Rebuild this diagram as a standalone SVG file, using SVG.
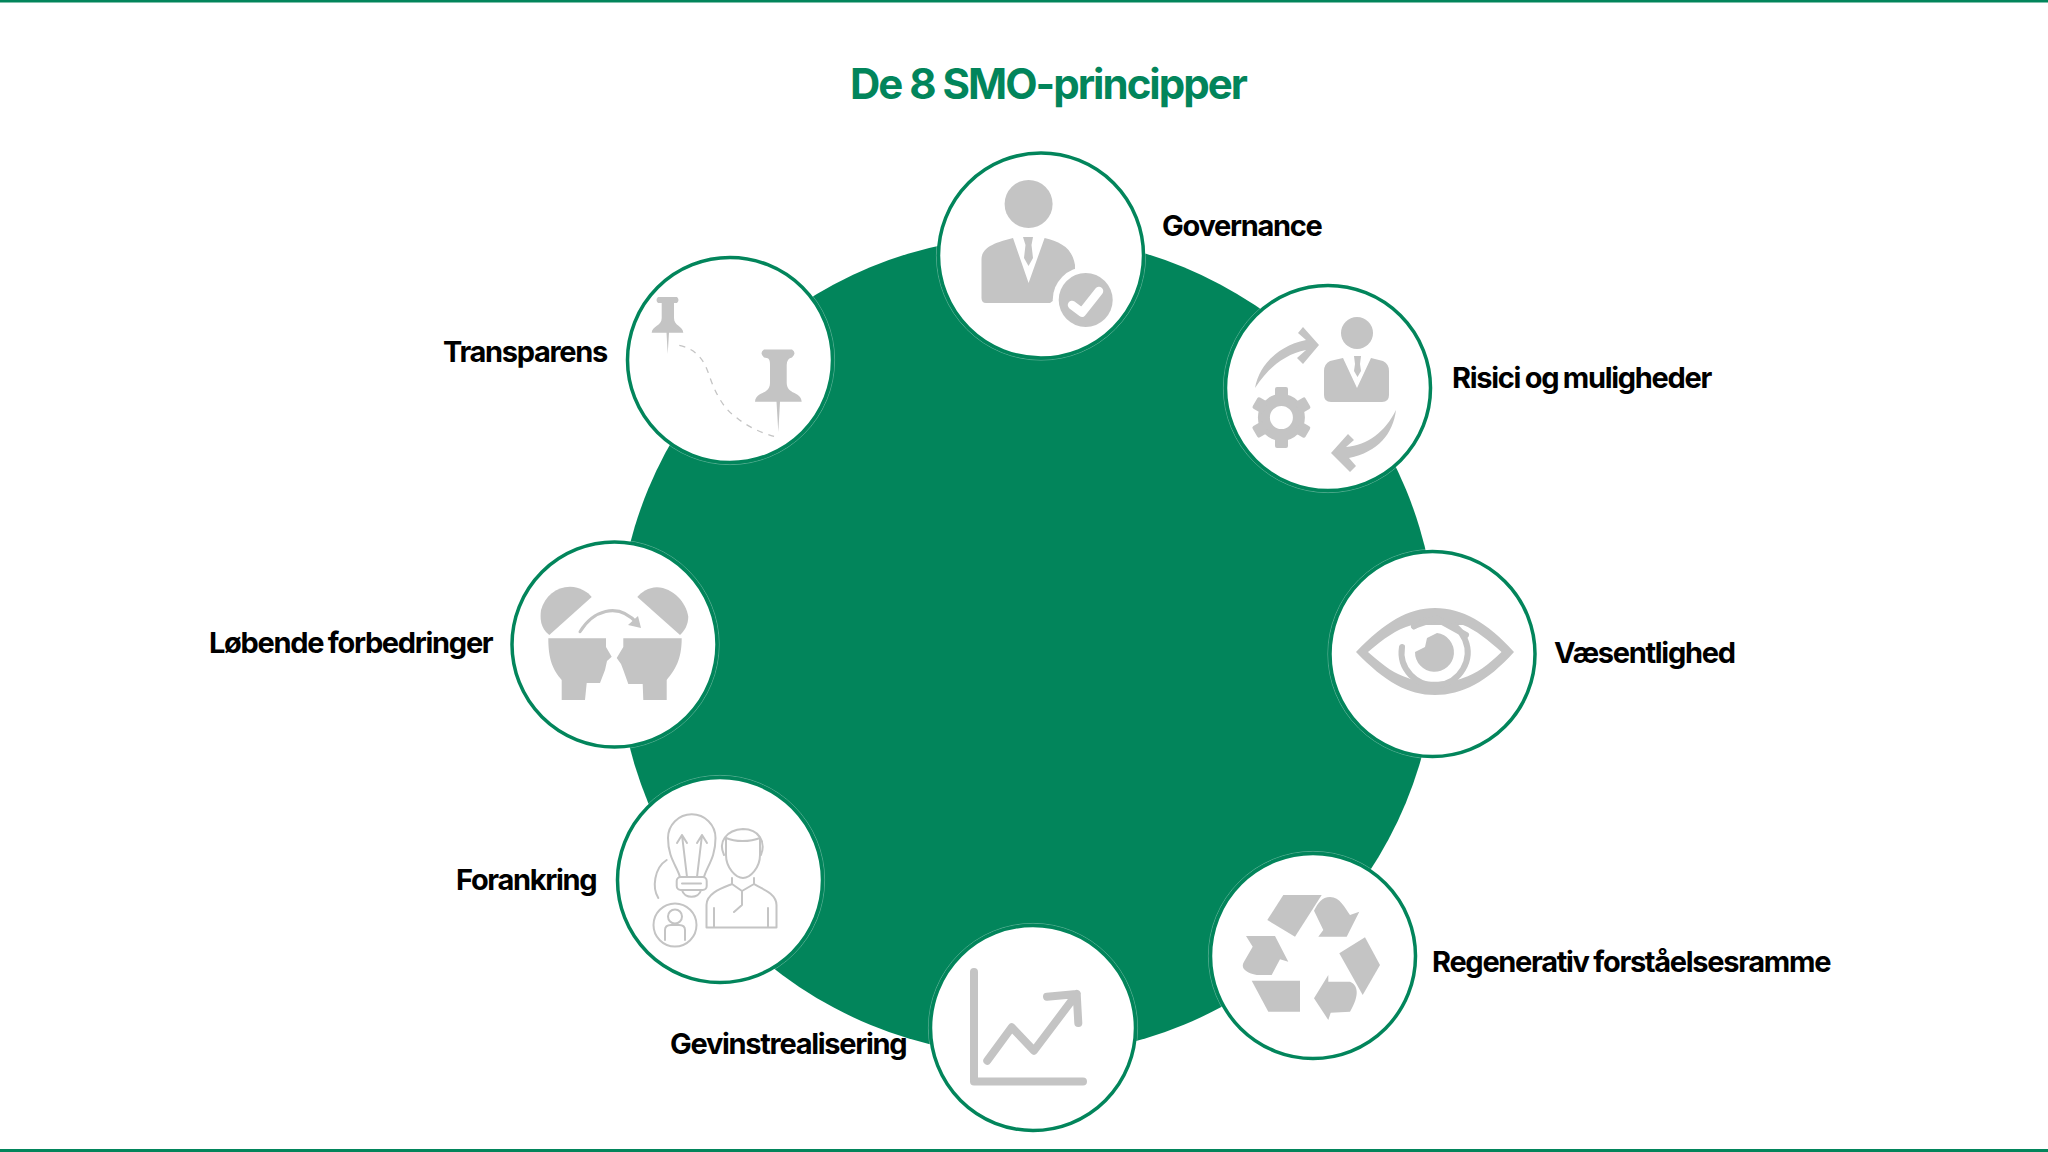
<svg xmlns="http://www.w3.org/2000/svg" width="2048" height="1152" viewBox="0 0 2048 1152">
<defs>
<style>
.ring{fill:#fff;stroke:#02855b;stroke-width:3.5}
.hair{fill:none;stroke:#fff;stroke-opacity:.4;stroke-width:.8}
.g{fill:#c4c4c4}
.s{fill:none;stroke:#c4c4c4;stroke-linecap:round;stroke-linejoin:round}
.o{fill:none;stroke:#c4c4c4;stroke-width:2;stroke-linecap:round;stroke-linejoin:round}
.lb{font-family:Inter,"Liberation Sans",sans-serif;font-weight:700;font-size:29px;letter-spacing:-1.3px;word-spacing:-1px;fill:#000}
.tt{font-family:Inter,"Liberation Sans",sans-serif;font-weight:700;font-size:42px;letter-spacing:-2px;word-spacing:0;fill:#02855b}
</style>
<filter id="soft" x="-5%" y="-5%" width="110%" height="110%"><feGaussianBlur stdDeviation=".5"/></filter>
</defs>
<rect width="2048" height="1152" fill="#fff"/>
<rect x="0" y="0" width="2048" height="2.5" fill="#02855b"/>
<rect x="0" y="1149" width="2048" height="3" fill="#02855b"/>
<text class="tt" x="850" y="99">De 8 SMO-principper</text>
<circle cx="1027" cy="646" r="410" fill="#02855b"/>

<g id="connectors"></g>

<g id="node-governance">
<circle class="hair" cx="1041" cy="255.500" r="104.6"/><circle class="ring" cx="1041" cy="255.500" r="102.5"/>
<g filter="url(#soft)">
<circle class="g" cx="1028.6" cy="204" r="24"/>
<path class="g" d="M1013,238L1028.6,283L1044.6,238C1060,242 1072,247 1075,265L1075,285L1050,303L986,303Q981.5,303 981.5,298L981.5,259C982,246 998,242 1013,238Z"/>
<path class="g" d="M1023,237H1033L1031.5,245L1033,258L1028.5,266L1024,258L1025.5,245Z" />
<circle cx="1085.7" cy="300" r="33" fill="#fff"/><circle class="g" cx="1085.7" cy="300" r="27"/>
<path d="M1072,305L1082,312.500L1099,291" fill="none" stroke="#fff" stroke-width="8.500" stroke-linecap="round" stroke-linejoin="round"/>
</g>
<text class="lb" x="1162" y="236">Governance</text>
</g>

<g id="node-risici">
<circle class="hair" cx="1328" cy="388" r="104.6"/><circle class="ring" cx="1328" cy="388" r="102.5"/>
<g filter="url(#soft)">
<circle class="g" cx="1357" cy="333" r="16"/>
<path class="g" d="M1343,358L1357,388L1371,358L1383,361Q1389,364 1389,371V395Q1389,402 1382,402H1331Q1324,402 1324,395V371Q1324,364 1330,361Z"/>
<path class="g" d="M1354,356H1361L1360,364L1361,371L1357.500,377L1354,371L1355,364Z"/>
<path class="g" d="M1255,388C1259,366 1277,346 1306,340L1298,333L1303,327L1319,345L1303,364L1297,358L1306,350C1285,354 1268,368 1255,388Z"/>
<path class="g" d="M1396,410C1393,434 1378,452 1349,458L1356,466L1350,472L1331,453L1348,434L1354,440L1346,447C1368,445 1385,432 1396,410Z"/>
<circle cx="1281.400" cy="417.500" r="17.500" fill="none" stroke="#c4c4c4" stroke-width="12"/>
<g class="g"><rect x="1275" y="387" width="13" height="12" rx="2"/><rect x="1275" y="436" width="13" height="12" rx="2"/><rect x="1275" y="387" width="13" height="12" rx="2" transform="rotate(60 1281.400 417.500)"/><rect x="1275" y="387" width="13" height="12" rx="2" transform="rotate(120 1281.400 417.500)"/><rect x="1275" y="387" width="13" height="12" rx="2" transform="rotate(240 1281.400 417.500)"/><rect x="1275" y="387" width="13" height="12" rx="2" transform="rotate(300 1281.400 417.500)"/></g>
</g>
<text class="lb" x="1452" y="388">Risici og muligheder</text>
</g>

<g id="node-vaesentlighed">
<circle class="hair" cx="1432.5" cy="654" r="104.6"/><circle class="ring" cx="1432.5" cy="654" r="102.5"/>
<g filter="url(#soft)">
<path class="g" fill-rule="evenodd" d="M1356,652C1385,622 1408,608 1435,608C1462,608 1487,622 1514,652C1487,682 1462,695 1435,695C1408,695 1385,682 1356,652ZM1368,652C1385,667 1395,674 1408,678C1420,683 1450,683 1463,678C1476,674 1488,665 1501.5,652C1488,640 1476,630 1463,625L1412,625C1395,630 1385,638 1368,652Z"/>
<path class="s" stroke-width="6" d="M1402,647A33,33 0 1 0 1414,626.500"/>
<path class="s" stroke-width="6" d="M1414,626L1436,618.500L1466,635" />
<path class="g" d="M1437,633A19.500,19.500 0 1 1 1415,652L1425,647L1427,638Z"/>
</g>
<text class="lb" x="1554" y="663">Væsentlighed</text>
</g>

<g id="node-regenerativ">
<circle class="hair" cx="1313" cy="956" r="104.6"/><circle class="ring" cx="1313" cy="956" r="102.5"/>
<g filter="url(#soft)" class="g">
<path d="M1283.300,895H1321.700L1295,936.700L1267.300,920Z"/>
<path d="M1314,910.700C1318,903 1322,897 1330,897C1340,897 1345,908 1350,915L1359.300,911.700L1346.700,936.700H1318.300L1323.300,930Z"/>
<path d="M1365,937.300L1380,965L1362.700,995L1339.300,953.300Z"/>
<path d="M1328.300,975V981.700H1350C1358,985 1360,995 1350,1011.700L1330.700,1012.700L1328.300,1020L1314,998.300Z"/>
<path d="M1251.700,980.700H1300V1011.700H1268.300Z"/>
<path d="M1246,936H1275L1288.300,961.700L1280,959.300L1271.700,975H1256.700C1246,973 1240,968 1244,961.700L1252.700,946.700Z"/>
</g>
<text class="lb" x="1432" y="972">Regenerativ forståelsesramme</text>
</g>

<g id="node-gevinstrealisering">
<circle class="hair" cx="1033" cy="1028" r="104.6"/><circle class="ring" cx="1033" cy="1028" r="102.5"/>
<g filter="url(#soft)">
<path class="s" stroke-width="8" d="M974,972V1081.500H1083"/>
<path class="s" stroke-width="8" d="M987.300,1060.700L1011.700,1027.300L1034,1050.700L1076.700,994M1047,996.700L1076.700,994L1078.300,1023"/>
</g>
<text class="lb" x="670" y="1054">Gevinstrealisering</text>
</g>

<g id="node-forankring">
<circle class="hair" cx="720" cy="880" r="104.6"/><circle class="ring" cx="720" cy="880" r="102.5"/>
<g filter="url(#soft)" class="o">
<path d="M680,877C677,866 668,858 668,838A23.700,23.700 0 0 1 715.500,838C715.500,858 707,866 704,877"/>
<rect x="676.700" y="877" width="30" height="13" rx="4"/><path d="M682,883.500H701M682,890C684,899 699,899 701,890"/>
<path d="M687,877L682,835M697,877L702,835M682,835L677,843M682,835L687,843M702,835L697,843M702,835L707,843"/>
<path d="M666.700,860C654,868 652,888 658.300,898"/>
<circle cx="675" cy="925" r="21.500"/><circle cx="675" cy="916.500" r="7"/><path d="M665,940V930Q665,925 671,925H679Q685,925 685,930V940"/>
<path d="M724,855C718,842 726,830 743,829C759,829 766,842 761,855"/>
<path d="M726,838V855C726,868 736,878 743,878C750,878 760,868 760,855V838C750,842 735,842 726,838Z"/>
<path d="M706.500,927.500H776.500M706.500,927.500V905C706.500,893 722,888 732,884M776.500,927.500V905C776.500,893 760,888 754,884M732,884L742,891L754,884M732,878V884M754,878V884M742,891V905M714,908V927.500M768,908V927.500M742,905L734,912"/>
</g>
<text class="lb" x="456" y="890">Forankring</text>
</g>

<g id="node-lobende">
<circle class="hair" cx="614.500" cy="644.500" r="104.6"/><circle class="ring" cx="614.500" cy="644.500" r="102.5"/>
<g filter="url(#soft)">
<path class="g" d="M549.300,635C540,628 540,618 541,610C545,596 556,587 570,586.700C580,587 588,592 591.700,597Z"/>
<path class="g" d="M637.300,597C642,592 648,587.500 657,587.300C673,588 686,602 688.300,616.700C688,625 685,630 680,635Z"/>
<path class="g" d="M548.300,638.300H606V647L611.700,656.700L607,661L605,670L600,683H586.700L585,700H561.700V680C553,670 548.300,660 548.300,638.300Z"/>
<path class="g" d="M623.300,638.300H681.700C681.700,660 675,670 666.700,680V700H643.300L642.700,684H628.300L623.300,670L621,664L616.700,658L623.300,647Z"/>
<path class="s" stroke-width="3" d="M580,631.700C592,612 617,600 638,624"/>
<path class="g" d="M641,628L628,625L638,616Z"/>
</g>
<text class="lb" x="209" y="653">Løbende forbedringer</text>
</g>

<g id="node-transparens">
<circle class="hair" cx="730" cy="360" r="104.6"/><circle class="ring" cx="730" cy="360" r="102.5"/>
<g filter="url(#soft)">
<path class="g" d="M658,297H677Q680,300 677,303H674V318C674,326 683,326 683.300,332.700H669L667.700,354L666.500,332.700H651.700C652,326 661.700,326 661.700,318V303H658Q655,300 658,297Z"/>
<path class="g" d="M764,349.500H792Q797,353 792,357.500Q787,358 786.700,365V383C787,395 801,391 801.700,401.700H780L778.300,432L776.500,401.700H755C756,391 770,395 770,383V365C770,358 768,358 764,357.500Q759,353 764,349.500Z"/>
<path fill="none" stroke="#c4c4c4" stroke-width="1.300" stroke-dasharray="6 6" d="M679.300,345.300C695,349 703,358 708,372C714,390 722,408 737,418C748,427 762,433 775,436.700"/>
</g>
<text class="lb" x="443" y="362">Transparens</text>
</g>
</svg>
